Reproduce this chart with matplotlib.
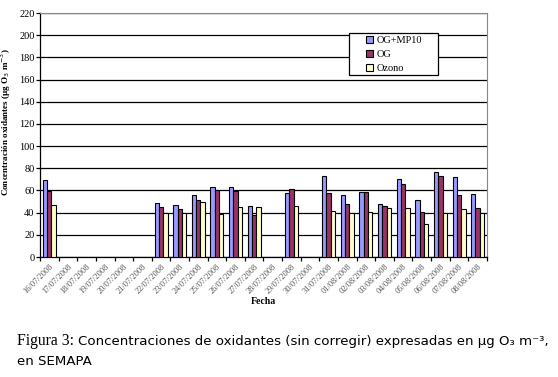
import matplotlib.pyplot as plt
import matplotlib.patches as mpatches
import numpy as np

fechas = ["16/07/2008", "17/07/2008", "18/07/2008", "19/07/2008", "20/07/2008",
          "21/07/2008", "22/07/2008", "23/07/2008", "24/07/2008", "25/07/2008",
          "26/07/2008", "27/07/2008", "28/07/2008", "29/07/2008", "30/07/2008",
          "31/07/2008", "01/08/2008", "02/08/2008", "03/08/2008", "04/08/2008",
          "05/08/2008", "06/08/2008", "07/08/2008", "08/08/2008"]
nan = np.nan
og_mp10 = [69, nan, nan, nan, nan, nan, 49, 47.3, 56.3, 63.5, 63.5, 46.4,
           nan, 58, nan, 72.6, 56.3, 59, 48.2, 70, 51, 77, 71.7, 57.2]
og = [59.3, nan, nan, nan, nan, nan, 45.5, 43.7, 51, 60, 59.3, 38.3,
      nan, 61.7, nan, 58, 48.2, 59, 46.4, 65.4, 41, 72.6, 56.3, 44.6]
ozono = [47.3, nan, nan, nan, nan, nan, 40, 40, 50, 39, 45.5, 45.5,
         nan, 46.4, nan, 41.9, 39.5, 41, 44.6, 44.6, 30, 40, 43.7, 40]
series = [("OG+MP10", og_mp10, "#9999FF"),
          ("OG", og, "#993366"),
          ("Ozono", ozono, "#FFFFCC")]

serif = "Liberation Serif"

fig = plt.figure(figsize=(5.58, 3.77), dpi=100)
ax = fig.add_axes([0.0717, 0.3183, 0.801, 0.6472])

x = np.arange(len(fechas))
w = 0.233
for i, (name, vals, col) in enumerate(series):
    ax.bar(x + (i - 1) * w, vals, w, color=col, edgecolor="black",
           linewidth=0.8, label=name, zorder=3)

ax.set_xlim(-0.5, len(fechas) - 0.5)
ax.set_ylim(0, 220)
ax.set_yticks(np.arange(0, 221, 20))
ax.yaxis.grid(True, color="black", linewidth=0.9, zorder=0)
ax.set_axisbelow(True)

ax.set_xticks(x)
ax.set_xticklabels(fechas, rotation=45, ha="right", va="top",
                   rotation_mode="anchor", fontsize=6, color="#555555",
                   family=serif)
ax.tick_params(axis="x", which="major", length=0, pad=4)
ax.set_xticks(np.arange(-0.5, len(fechas), 1), minor=True)
ax.tick_params(axis="x", which="minor", length=3, width=0.9, direction="out")
ax.tick_params(axis="y", length=3, width=0.9, direction="out", pad=1,
               labelsize=7.5)
for lab in ax.get_yticklabels():
    lab.set_family(serif)

for s in ["top", "right"]:
    ax.spines[s].set_color("#888888")
    ax.spines[s].set_linewidth(0.8)
ax.spines["left"].set_linewidth(0.9)
ax.spines["bottom"].set_linewidth(0.9)

ax.set_ylabel("Concentración oxidantes (µg O$_3$ m$^{-3}$)", family=serif,
              fontsize=6.5, fontweight="bold")
ax.yaxis.set_label_coords(-0.06, 0.553)
ax.set_xlabel("Fecha", family=serif, fontsize=7, fontweight="bold",
              labelpad=1)

# legend frame drawn by hand so the entries sit with a wide left margin
frame = mpatches.Rectangle((0.691, 0.746), 0.199, 0.172, transform=ax.transAxes,
                           facecolor="white", edgecolor="black", linewidth=0.9,
                           zorder=5)
ax.add_patch(frame)
leg = ax.legend(loc="upper left", bbox_to_anchor=(0.729, 0.905),
                prop={"family": serif, "size": 7.5}, frameon=False,
                handlelength=0.7, handleheight=0.7, handletextpad=0.3,
                borderpad=0, labelspacing=0.45, borderaxespad=0)
leg.set_zorder(6)

fig.text(17 / 558, 1 - 345 / 377, "Figura 3:", family=serif, fontsize=11.3,
         ha="left", va="baseline")
fig.text(78 / 558, 1 - 345 / 377,
         "Concentraciones de oxidantes (sin corregir) expresadas en µg O₃ m⁻³,",
         family="DejaVu Sans", fontsize=9.6, ha="left", va="baseline")
fig.text(17 / 558, 1 - 365 / 377, "en SEMAPA", family="DejaVu Sans",
         fontsize=9.6, ha="left", va="baseline")

fig.savefig("out.png", dpi=100)
